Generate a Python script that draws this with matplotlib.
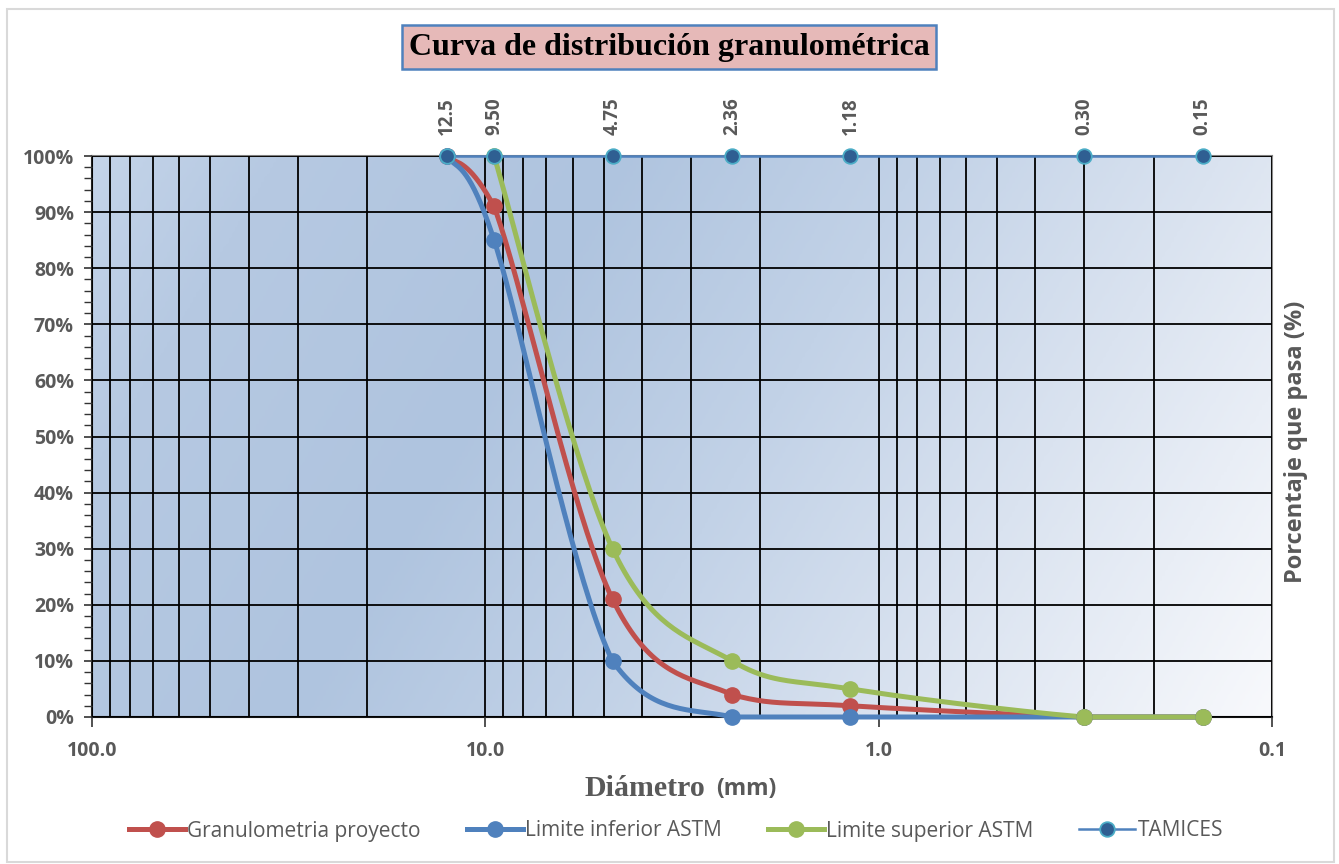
import numpy as np
import matplotlib
matplotlib.use("Agg")
import matplotlib.pyplot as plt
from matplotlib.lines import Line2D
from matplotlib.patches import Rectangle
from matplotlib.colors import LinearSegmentedColormap

# ---------------- data ----------------
sieves = [12.5, 9.50, 4.75, 2.36, 1.18, 0.30, 0.15]
sieve_labels = ["12.5", "9.50", "4.75", "2.36", "1.18", "0.30", "0.15"]
tamices_y = [100, 100, 100, 100, 100, 100, 100]

proy_x = [12.5, 9.50, 4.75, 2.36, 1.18, 0.30, 0.15]
proy_y = [100, 91, 21, 4, 2, 0, 0]

inf_x = [12.5, 9.50, 4.75, 2.36, 1.18, 0.30, 0.15]
inf_y = [100, 85, 10, 0, 0, 0, 0]

sup_x = [9.50, 4.75, 2.36, 1.18, 0.30, 0.15]
sup_y = [100, 30, 10, 5, 0, 0]

y_ticks = [0, 10, 20, 30, 40, 50, 60, 70, 80, 90, 100]
x_ticks = [100, 10, 1, 0.1]
x_ticklabels = ["100.0", "10.0", "1.0", "0.1"]

title = "Curva de distribución granulométrica"
legend_labels = ["Granulometria proyecto", "Limite inferior ASTM",
                 "Limite superior ASTM", "TAMICES"]

# ---------------- style ----------------
W, H = 1339, 864
fig = plt.figure(figsize=(W / 100, H / 100), dpi=100)
fig.patch.set_facecolor("white")

L, R, T, B = 92, 1272, 156, 717
ax = fig.add_axes([L / W, (H - B) / H, (R - L) / W, (B - T) / H])
ax.set_xscale("log")
ax.set_xlim(100, 0.1)
ax.set_ylim(0, 100)

sans = ["Open Sans", "DejaVu Sans"]
serif = ["Liberation Serif", "DejaVu Serif"]
grey = "#595959"

# background gradient
nx, ny = 400, 200
xs = np.linspace(0, 1, nx)
ys = np.linspace(1, 0, ny)
XX, YY = np.meshgrid(xs, ys)
tt = XX + 0.28 * (0.5 - YY)
tt = np.clip((tt + 0.15) / 1.3, 0, 1)
cmap = LinearSegmentedColormap.from_list(
    "bg", [(0.0, "#c4d4e9"), (0.12, "#b6c9e2"), (0.35, "#afc4df"),
           (0.55, "#c2d2e7"), (0.75, "#dae3f0"), (1.0, "#f8f9fc")])
ax.imshow(tt, cmap=cmap, extent=(0, 1, 0, 1), transform=ax.transAxes,
          aspect="auto", zorder=0, interpolation="bilinear")

# grid / ticks
ax.set_yticks(y_ticks)
ax.set_yticklabels([f"{v}%" for v in y_ticks])
ax.set_yticks(np.arange(0, 101, 2), minor=True)
ax.set_xticks(x_ticks)
ax.set_xticklabels(x_ticklabels)
ax.xaxis.set_minor_locator(matplotlib.ticker.LogLocator(base=10, subs=np.arange(2, 10)))
ax.xaxis.set_minor_formatter(matplotlib.ticker.NullFormatter())
ax.grid(True, which="major", axis="both", color="black", lw=1.3, zorder=1)
ax.grid(True, which="minor", axis="x", color="black", lw=1.3, zorder=1)
ax.set_axisbelow(False)
ax.tick_params(axis="y", which="major", length=6, width=1.2, color="#333333",
               labelsize=14, labelcolor=grey, pad=7)
ax.tick_params(axis="y", which="minor", length=6, width=1.0, color="#333333")
ax.tick_params(axis="x", which="major", length=7, width=1.2, color="#333333",
               labelsize=14, labelcolor=grey, pad=10)
ax.tick_params(axis="x", which="minor", length=0)
for lab in ax.get_xticklabels() + ax.get_yticklabels():
    lab.set_fontweight("bold")
    lab.set_family(sans)

ax.spines["left"].set_color("#222222")
ax.spines["left"].set_linewidth(1.5)
ax.spines["bottom"].set_color("#111111")
ax.spines["bottom"].set_linewidth(1.5)
ax.spines["right"].set_color("#8c8c8c")
ax.spines["right"].set_linewidth(1.5)
ax.spines["top"].set_color("#7f7f7f")
ax.spines["top"].set_linewidth(1.5)

fig.canvas.draw()


def smooth(xd, yd, n=40):
    """Excel-like smoothing (Bezier, 1/6 tangents) computed in display space,
    with control points kept inside each segment's vertical range."""
    pts = ax.transData.transform(np.column_stack([xd, yd]))
    m = len(pts)
    out = []
    for i in range(m - 1):
        p0 = pts[i - 1] if i > 0 else pts[i]
        p1 = pts[i]
        p2 = pts[i + 1]
        p3 = pts[i + 2] if i + 2 < m else pts[i + 1]
        c1 = p1 + (p2 - p0) / 6.0
        c2 = p2 - (p3 - p1) / 6.0
        lo, hi = min(p1[1], p2[1]), max(p1[1], p2[1])
        c1[1] = np.clip(c1[1], lo, hi)
        c2[1] = np.clip(c2[1], lo, hi)
        t = np.linspace(0, 1, n)[:, None]
        seg = ((1 - t) ** 3) * p1 + 3 * ((1 - t) ** 2) * t * c1 + \
            3 * (1 - t) * t ** 2 * c2 + t ** 3 * p2
        out.append(seg if i == 0 else seg[1:])
    out = np.vstack(out)
    d = ax.transData.inverted().transform(out)
    return d[:, 0], d[:, 1]


series = [
    (proy_x, proy_y, "#c0504d", legend_labels[0]),
    (inf_x, inf_y, "#4f81bd", legend_labels[1]),
    (sup_x, sup_y, "#9bbb59", legend_labels[2]),
]
handles = []
for xd, yd, col, lab in series:
    sx, sy = smooth(xd, yd)
    ax.plot(sx, sy, color=col, lw=3.6, zorder=4, clip_on=False,
            solid_capstyle="round")
    ax.plot(xd, yd, ls="none", marker="o", ms=11, color=col, zorder=5,
            clip_on=False)
    handles.append(Line2D([], [], color=col, lw=3.6, marker="o", ms=11))

# TAMICES
ax.plot(sieves, tamices_y, color="#4f81bd", lw=1.8, marker="o", ms=10.5,
        mfc="#2f5f92", mec="#4bacc6", mew=1.3, zorder=6, clip_on=False)
handles.append(Line2D([], [], color="#4f81bd", lw=1.8, marker="o", ms=10.5,
                      mfc="#2f5f92", mec="#4bacc6", mew=1.3))
for sx_, lab in zip(sieves, sieve_labels):
    ax.annotate(lab, xy=(sx_, 100), xytext=(0, 15), textcoords="offset points",
                rotation=90, ha="center", va="bottom", fontsize=13.5,
                fontweight="bold", color=grey, family=sans, annotation_clip=False)

# title box
fig.text(669 / W, 1 - 47 / H, title, ha="center", va="center",
         fontsize=23, fontweight="bold", family=serif, color="black",
         bbox=dict(boxstyle="square,pad=0.22", fc="#e6b9b8", ec="#4f81bd", lw=1.8))

# axis labels
fig.text(705 / W, 1 - 789 / H, "Diámetro", ha="right", va="center",
         fontsize=21.5, fontweight="bold", family=serif, color=grey)
fig.text(716 / W, 1 - 789 / H, "(mm)", ha="left", va="center",
         fontsize=16.5, fontweight="bold", family=sans, color=grey)
fig.text(1296 / W, 1 - 442 / H, "Porcentaje que pasa (%)", ha="center",
         va="center", rotation=90, fontsize=17, fontweight="bold",
         family=sans, color=grey)

# legend
leg = fig.legend(handles, legend_labels, loc="center", ncol=4,
                 bbox_to_anchor=(676 / W, 1 - 831 / H), frameon=False,
                 prop={"family": sans, "size": 15}, handlelength=2.7,
                 handletextpad=0.1, columnspacing=2.2)
for txt in leg.get_texts():
    txt.set_color(grey)

# outer border
fig.patches.append(Rectangle((7 / W, 2 / H), (1334 - 7) / W, (855 - 2) / H,
                             transform=fig.transFigure, fill=False,
                             ec="#d9d9d9", lw=1.5))

fig.savefig("out.png", dpi=100)
